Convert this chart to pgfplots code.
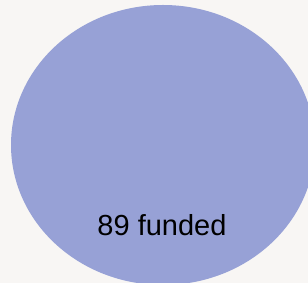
\documentclass[border=0pt]{standalone}
\usepackage{pgfplots}
\pgfplotsset{compat=1.18}
\usepackage{fontspec}
\setmainfont{Liberation Sans}
\definecolor{bgc}{RGB}{248,246,244}
\definecolor{setc}{RGB}{151,161,214}
\begin{document}
\begin{tikzpicture}
\useasboundingbox (0,0) rectangle (308pt,283pt);
\clip (0,0) rectangle (308pt,283pt);
\fill[bgc] (0,0) rectangle (308pt,283pt);
\begin{axis}[at={(0,0)}, anchor=south west, scale only axis,
  width=308pt, height=283pt, xmin=0, xmax=308, ymin=0, ymax=283,
  hide axis, clip=false]
\fill[setc] (axis cs:163,138) ellipse [x radius=152, y radius=140];
\node[anchor=base, font=\fontsize{29}{34}\selectfont] at (axis cs:162,47) {89 funded};
\end{axis}
\end{tikzpicture}
\end{document}
